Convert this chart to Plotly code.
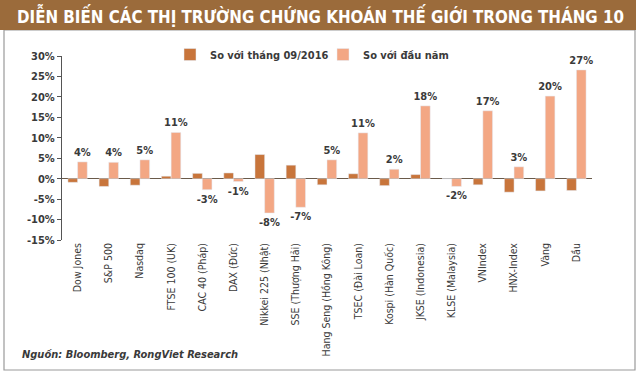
import plotly.graph_objects as go

categories = ["Dow Jones", "S&P 500", "Nasdaq", "FTSE 100 (UK)", "CAC 40 (Pháp)", "DAX (Đức)",
              "Nikkei 225 (Nhật)", "SSE (Thượng Hải)", "Hang Seng (Hồng Kông)", "TSEC (Đài Loan)",
              "Kospi (Hàn Quốc)", "JKSE (Indonesia)", "KLSE (Malaysia)", "VNIndex", "HNX-Index",
              "Vàng", "Dầu"]
mom_values = [-0.9, -1.9, -1.6, 0.6, 1.3, 1.4, 5.9, 3.3, -1.5, 1.2, -1.7, 1.0, 0.0, -1.5, -3.3, -3.0, -2.9]
ytd_values = [4.1, 4.0, 4.6, 11.3, -2.7, -0.7, -8.4, -7.0, 4.6, 11.2, 2.3, 17.8, -1.9, 16.6, 2.9, 20.2, 26.6]
mom_name = "So với tháng 09/2016"
ytd_name = "So với đầu năm"
title_text = "DIỄN BIẾN CÁC THỊ TRƯỜNG CHỨNG KHOÁN THẾ GIỚI TRONG THÁNG 10"
source_text = "Nguồn: Bloomberg, RongViet Research"
y_ticks = [-15, -10, -5, 0, 5, 10, 15, 20, 25, 30]

dark = "#c8753b"
light = "#f3a784"
txt = "#3a3a3a"
cond = "DejaVu Sans Condensed"

fig = go.Figure()
fig.add_trace(go.Bar(x=categories, y=mom_values, name=mom_name, marker_color=dark))
fig.add_trace(go.Bar(x=categories, y=ytd_values, name=ytd_name, marker_color=light,
                     text=[f"{round(v):d}%" for v in ytd_values], textposition="outside",
                     constraintext="none",
                     textfont=dict(family=cond, size=11, color=txt, weight="bold"),
                     cliponaxis=False))

L, R, T, B = 62, 592, 56, 240
W, H = R - L, B - T
def px(x):
    return (x - L) / W
def py(y):
    return (B - y) / H

shapes = [
    dict(type="rect", xref="paper", yref="paper", x0=px(4), x1=px(635), y0=py(370), y1=py(30),
         line=dict(color="#9a9a9a", width=1.2), fillcolor="rgba(0,0,0,0)", layer="below"),
    dict(type="rect", xref="paper", yref="paper", x0=px(0), x1=px(636), y0=py(30), y1=py(0),
         line=dict(width=0), fillcolor="#9b6b3b", layer="below"),
]

annotations = [
    dict(text=title_text, xref="paper", yref="paper", x=px(320), y=py(15), showarrow=False,
         xanchor="center", yanchor="middle",
         font=dict(family=cond, size=16.8, color="white", weight="bold")),
    dict(text=source_text, xref="paper", yref="paper", x=px(20), y=py(354), showarrow=False,
         xanchor="left", yanchor="middle",
         font=dict(family=cond, size=11, color=txt, weight="bold", style="italic")),
]

fig.update_layout(
    width=640, height=374,
    margin=dict(l=L, r=640 - R, t=T, b=374 - B, autoexpand=False),
    paper_bgcolor="white", plot_bgcolor="white",
    barmode="group", bargap=0.38, bargroupgap=0,
    shapes=shapes, annotations=annotations,
    showlegend=True,
    legend=dict(orientation="h", x=px(170), y=py(40), xanchor="left", yanchor="top",
                font=dict(family=cond, size=11, color=txt, weight="bold"),
                itemwidth=30, entrywidth=108, entrywidthmode="pixels",
                bgcolor="rgba(0,0,0,0)"),
    xaxis=dict(tickangle=-90, tickfont=dict(family=cond, size=10.5, color=txt),
               showline=False, ticks="", showgrid=False, automargin=False),
    yaxis=dict(range=[-15, 30], tickvals=y_ticks, ticktext=[f"{v}%" for v in y_ticks],
               tickfont=dict(family=cond, size=11, color=txt, weight="bold"),
               showline=True, linecolor="#555", linewidth=1.2, ticks="outside", ticklen=4,
               tickcolor="#555", showgrid=False, zeroline=True, zerolinecolor="#6a5a4a",
               zerolinewidth=1.2, automargin=False),
)

fig.write_html("out.html", config={"displayModeBar": False},
               post_script="document.body.style.margin='0';")
